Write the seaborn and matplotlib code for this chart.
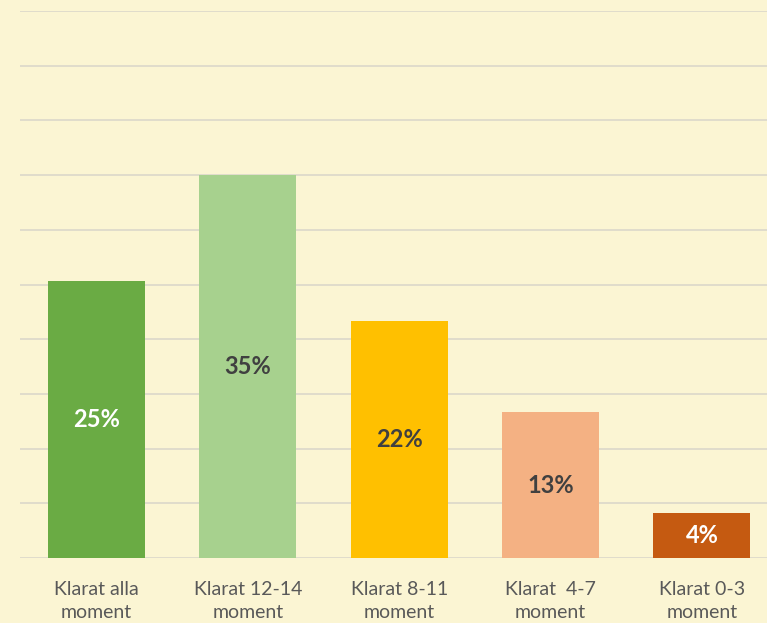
import matplotlib
matplotlib.use("Agg")
import pandas as pd
import seaborn as sns
import matplotlib.pyplot as plt

# Values (percent of students)
categories = ['Klarat alla\nmoment', 'Klarat 12-14\nmoment', 'Klarat 8-11\nmoment',
              'Klarat  4-7\nmoment', 'Klarat 0-3\nmoment']
values = [25.3, 35.0, 21.7, 13.3, 4.1]
bar_colors = ['#6AAB44', '#A7D18E', '#FFC000', '#F4B183', '#C55A11']
label_colors = ['white', '#404040', '#404040', '#404040', 'white']

df = pd.DataFrame({'Kategori': categories, 'Andel': values})

sns.set_style('white')
plt.rcParams['font.family'] = ['Lato', 'DejaVu Sans']

bg = '#FBF5D3'
fig = plt.figure(figsize=(7.67, 6.23), dpi=100, facecolor=bg)
ax = fig.add_axes([20 / 767, 1 - 558 / 623, 1 - 20 / 767, (558 - 11) / 623])
ax.set_facecolor(bg)

sns.barplot(data=df, x='Kategori', y='Andel', hue='Kategori', palette=bar_colors,
            width=0.64, legend=False, ax=ax, zorder=3, saturation=1, linewidth=0)

ax.set_ylim(0, 50)
ax.set_xlim(-0.505, 4.43)
ax.set_yticks(range(0, 51, 5))
ax.yaxis.grid(True, color='#E0DCCB', linewidth=1.4, zorder=0)
ax.set_axisbelow(True)
ax.tick_params(axis='y', left=False, labelleft=False)
ax.tick_params(axis='x', bottom=False, labelsize=14, labelcolor='#595959', pad=13)
for lbl in ax.get_xticklabels():
    lbl.set_linespacing(1.45)
for s in ax.spines.values():
    s.set_visible(False)
ax.set_xlabel('')
ax.set_ylabel('')

for i, v in enumerate(values):
    ax.text(i, v / 2, f'{v:.0f}%', ha='center', va='center', fontsize=17,
            fontweight='bold', color=label_colors[i], zorder=4)

fig.savefig('out.png', dpi=100, facecolor=bg)
